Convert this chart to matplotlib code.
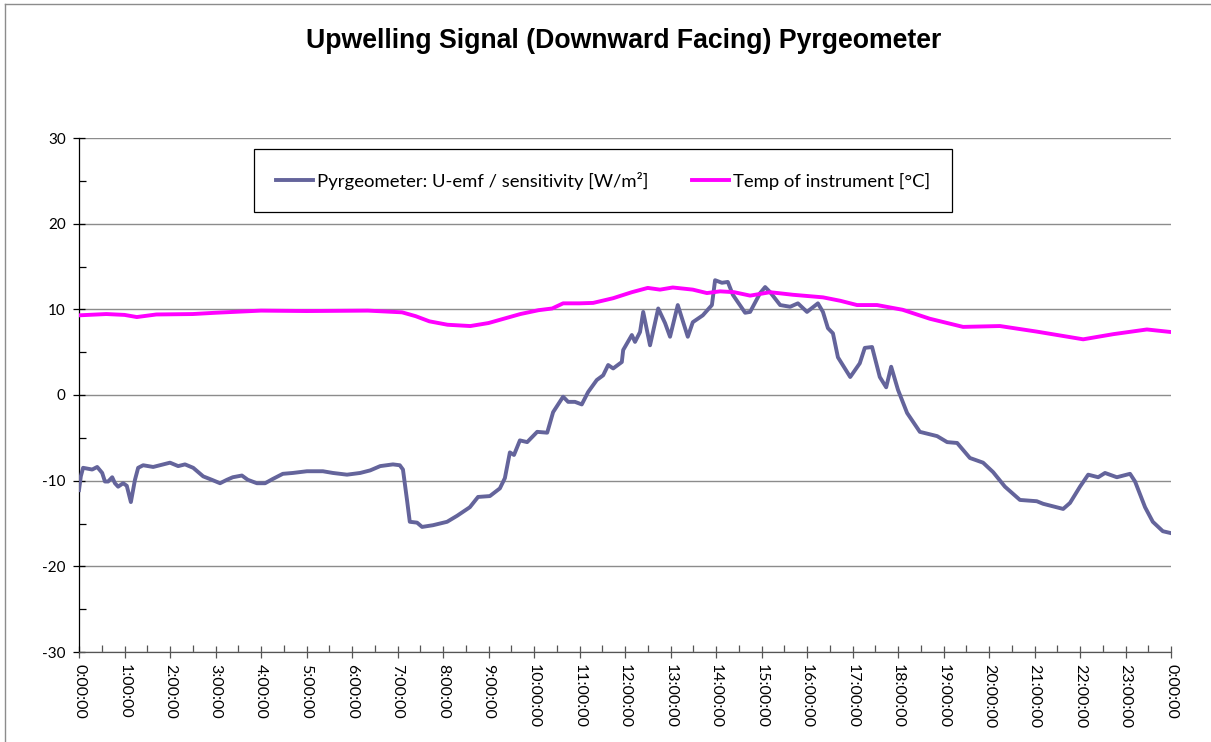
import matplotlib
matplotlib.use("Agg")
import matplotlib.pyplot as plt
from matplotlib.lines import Line2D
from matplotlib.ticker import MultipleLocator, FixedLocator

plt.rcParams["axes.unicode_minus"] = False

# ---- data (hours of day, values) ----
pyr_hours = [0.00, 0.04, 0.09, 0.29, 0.40, 0.51, 0.57, 0.64, 0.73, 0.79, 0.86, 0.97, 1.05, 1.14,
             1.23, 1.30, 1.41, 1.63, 1.78, 2.00, 2.18, 2.33, 2.51, 2.73, 2.92, 3.10, 3.25, 3.38,
             3.58, 3.71, 3.91, 4.09, 4.26, 4.48, 4.70, 5.01, 5.36, 5.58, 5.89, 6.18, 6.40, 6.62,
             6.90, 7.05, 7.12, 7.21, 7.27, 7.43, 7.54, 7.78, 8.09, 8.31, 8.59, 8.77, 9.03, 9.25,
             9.36, 9.47, 9.56, 9.69, 9.85, 10.07, 10.29, 10.42, 10.64, 10.75, 10.90, 11.05, 11.19,
             11.38, 11.52, 11.63, 11.74, 11.93, 11.96, 12.15, 12.22, 12.33, 12.40, 12.55, 12.73,
             12.88, 12.99, 13.16, 13.38, 13.49, 13.71, 13.91, 13.98, 14.13, 14.26, 14.37, 14.64,
             14.75, 14.97, 15.08, 15.19, 15.41, 15.63, 15.80, 16.00, 16.24, 16.35, 16.46, 16.57,
             16.68, 16.95, 17.16, 17.27, 17.43, 17.60, 17.74, 17.85, 18.00, 18.20, 18.48, 18.86,
             19.08, 19.30, 19.58, 19.87, 20.09, 20.35, 20.68, 21.05, 21.19, 21.41, 21.63, 21.78,
             22.00, 22.18, 22.40, 22.55, 22.81, 23.10, 23.21, 23.43, 23.60, 23.82, 23.98]
pyr_values = [-11.1, -9.5, -8.5, -8.7, -8.4, -9.1, -10.1, -10.1, -9.6, -10.3, -10.7, -10.3, -10.6, -12.5,
              -9.9, -8.5, -8.2, -8.4, -8.2, -7.9, -8.3, -8.1, -8.5, -9.5, -9.9, -10.3, -9.9, -9.6,
              -9.4, -9.9, -10.3, -10.3, -9.8, -9.2, -9.1, -8.9, -8.9, -9.1, -9.3, -9.1, -8.8, -8.3,
              -8.1, -8.2, -8.7, -12.3, -14.8, -14.9, -15.4, -15.2, -14.8, -14.1, -13.1, -11.9, -11.8, -10.9,
              -9.7, -6.7, -7.0, -5.3, -5.5, -4.3, -4.4, -2.0, -0.2, -0.8, -0.8, -1.1, 0.35,
              1.75, 2.3, 3.5, 3.1, 3.85, 5.25, 7.0, 6.2, 7.35, 9.7, 5.8, 10.1,
              8.4, 6.8, 10.5, 6.8, 8.5, 9.3, 10.5, 13.4, 13.1, 13.2, 11.7, 9.6,
              9.7, 11.9, 12.6, 12.0, 10.5, 10.3, 10.7, 9.7, 10.7, 9.7, 7.8, 7.2,
              4.4, 2.1, 3.7, 5.5, 5.6, 2.1, 0.9, 3.3, 0.6, -2.1, -4.3, -4.8,
              -5.5, -5.6, -7.35, -7.9, -9.0, -10.7, -12.25, -12.4, -12.7, -13.0, -13.3, -12.6,
              -10.7, -9.3, -9.6, -9.1, -9.6, -9.2, -10.1, -13.1, -14.8, -15.9, -16.1]

temp_hours = [0.0, 0.6, 1.0, 1.27, 1.7, 2.5, 3.0, 4.0, 5.0, 6.35, 7.1, 7.4, 7.7, 8.1, 8.6, 9.0,
              9.7, 10.1, 10.4, 10.64, 11.0, 11.3, 11.74, 12.15, 12.5, 12.77, 13.05, 13.49, 13.8,
              14.09, 14.4, 14.75, 15.19, 15.69, 16.35, 16.73, 17.1, 17.54, 18.1, 18.7, 19.43,
              20.24, 21.05, 22.07, 22.73, 23.47, 24.0]
temp_values = [9.3, 9.45, 9.35, 9.1, 9.4, 9.45, 9.6, 9.85, 9.8, 9.85, 9.65, 9.2, 8.6, 8.2, 8.05, 8.4,
               9.45, 9.9, 10.1, 10.7, 10.7, 10.75, 11.3, 12.0, 12.5, 12.3, 12.55, 12.3, 11.9,
               12.1, 12.0, 11.6, 12.0, 11.7, 11.4, 11.0, 10.5, 10.5, 9.95, 8.9, 7.95,
               8.05, 7.4, 6.5, 7.1, 7.65, 7.35]

x_tick_labels = [f"{h % 24}:00:00" for h in range(25)]
title = "Upwelling Signal (Downward Facing) Pyrgeometer"
label_pyr = "Pyrgeometer: U-emf / sensitivity [W/m²]"
label_temp = "Temp of instrument [°C]"

# ---- figure ----
W, H = 1211, 742
fig = plt.figure(figsize=(W / 100, H / 100), dpi=100)
ax = fig.add_axes([79 / W, 1 - 652 / H, (1171 - 79) / W, (652 - 138) / H])

blue = "#64649B"
magenta = "#FF00FF"

ax.plot(pyr_hours, pyr_values, color=blue, lw=2.8, solid_joinstyle="round", zorder=3)
ax.plot(temp_hours, temp_values, color=magenta, lw=2.8, solid_joinstyle="round", zorder=3)

ax.set_xlim(0, 24)
ax.set_ylim(-30, 30)

ax.yaxis.set_major_locator(MultipleLocator(10))
ax.yaxis.set_minor_locator(MultipleLocator(5))
ax.xaxis.set_major_locator(FixedLocator(list(range(25))))
ax.xaxis.set_minor_locator(MultipleLocator(0.5))
ax.set_xticklabels(x_tick_labels, rotation=-90, va="top", ha="center",
                   fontfamily="Lato", fontsize=11.5)
for lab in ax.get_yticklabels():
    lab.set_fontfamily("Lato")
    lab.set_fontsize(11)

ax.grid(axis="y", which="major", color="#8C8C8C", lw=1.0, zorder=1)
for s in ["top", "right"]:
    ax.spines[s].set_visible(False)
for s in ["left", "bottom"]:
    ax.spines[s].set_color("#000000")
    ax.spines[s].set_linewidth(0.9)
ax.spines["bottom"].set_color("#555555")

ax.tick_params(axis="both", which="major", direction="inout", length=9, width=0.9, color="#000000")
ax.tick_params(axis="x", which="major", color="#555555")
ax.tick_params(axis="both", which="minor", direction="in", length=5, width=0.9)
ax.tick_params(axis="x", which="minor", color="#555555")
ax.tick_params(axis="y", pad=5)
ax.tick_params(axis="x", pad=4)

fig.text(624 / W, 1 - 41 / H, title, ha="center", va="center",
         fontfamily="Liberation Sans", fontweight="bold", fontsize=19.2)

handles = [Line2D([], [], color=blue, lw=2.8), Line2D([], [], color=magenta, lw=2.8)]
leg = fig.legend(handles, [label_pyr, label_temp], ncol=2, loc="center",
                 bbox_to_anchor=(603 / W, 1 - 180.5 / H), frameon=True, fancybox=False,
                 edgecolor="#000000", framealpha=1, borderpad=1.2, handlelength=2.0,
                 handletextpad=0.2, columnspacing=2.4, prop={"family": "Lato", "size": 13.3})
leg.get_frame().set_linewidth(0.9)

# figure border (left and top)
fig.add_artist(Line2D([5 / W, 5 / W], [0, 1 - 4 / H], transform=fig.transFigure, color="#8C8C8C", lw=1))
fig.add_artist(Line2D([5 / W, 1], [1 - 4 / H, 1 - 4 / H], transform=fig.transFigure, color="#8C8C8C", lw=1))

fig.savefig("out.png", dpi=100)
